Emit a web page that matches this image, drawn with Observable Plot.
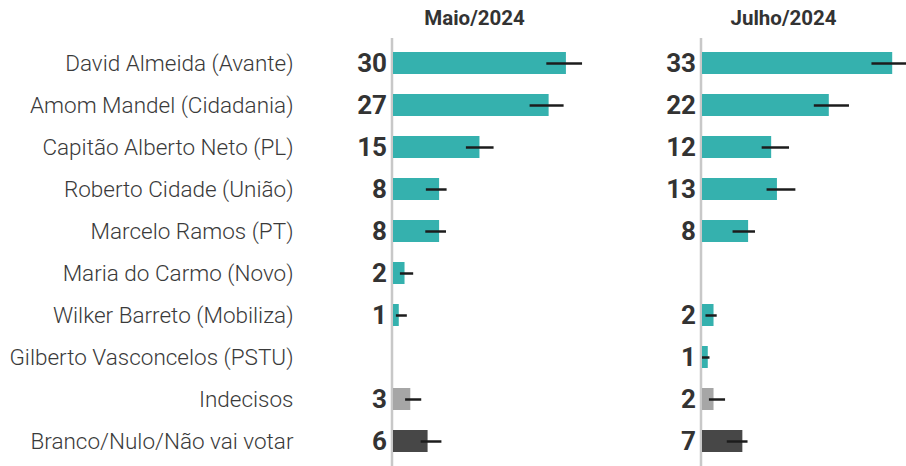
<!DOCTYPE html>
<html><head><meta charset="utf-8">
<script src="https://cdn.jsdelivr.net/npm/d3@7"></script>
<script src="https://cdn.jsdelivr.net/npm/@observablehq/plot@0.6"></script>
<style>body{margin:0;background:#fff;}</style>
</head><body><div id="chart"></div>
<script>
const periods = ["Maio/2024", "Julho/2024"];
const categories = [
  "David Almeida (Avante)",
  "Amom Mandel (Cidadania)",
  "Capitão Alberto Neto (PL)",
  "Roberto Cidade (União)",
  "Marcelo Ramos (PT)",
  "Maria do Carmo (Novo)",
  "Wilker Barreto (Mobiliza)",
  "Gilberto Vasconcelos (PSTU)",
  "Indecisos",
  "Branco/Nulo/Não vai votar"
];
const barColors = ["#35b1ae","#35b1ae","#35b1ae","#35b1ae","#35b1ae","#35b1ae","#35b1ae","#35b1ae","#a6a6a6","#474747"];
const maioValues = [30, 27, 15, 8, 8, 2, 1, null, 3, 6];
const maioLow    = [26.6, 23.7, 12.65, 5.7, 5.6, 1.2, 0.5, null, 2.1, 4.8];
const maioHigh   = [32.8, 29.6, 17.45, 9.3, 9.2, 3.5, 2.4, null, 4.9, 8.4];
const julhoValues = [33, 22, 12, 13, 8, null, 2, 1, 2, 7];
const julhoLow    = [29.4, 19.4, 10.35, 11.2, 5.3, null, 0.6, 0, 1.2, 4.3];
const julhoHigh   = [36.8, 25.5, 15.1, 16.2, 9.2, null, 2.55, 1.3, 4.0, 7.9];

const rows = [];
categories.forEach((c, i) => {
  if (maioValues[i] != null) rows.push({period: periods[0], category: c, value: maioValues[i], low: maioLow[i], high: maioHigh[i]});
  if (julhoValues[i] != null) rows.push({period: periods[1], category: c, value: julhoValues[i], low: julhoLow[i], high: julhoHigh[i]});
});

const chart = Plot.plot({
  width: 906, height: 466,
  marginLeft: 393, marginRight: 4, marginTop: 42, marginBottom: 4,
  style: {fontFamily: "Roboto", color: "#333", background: "#fff"},
  fx: {domain: periods, paddingInner: 0.353, paddingOuter: 0, axis: null},
  x: {domain: [0, 34.7], axis: null},
  y: {domain: categories, paddingInner: 0.476, paddingOuter: 0.238, axis: null},
  color: {domain: categories, range: barColors},
  marks: [
    Plot.axisFx({anchor: "top", tickSize: 0, tickPadding: 18, fontSize: 20.5, fontWeight: "bold", dx: -19, label: null}),
    Plot.axisY({anchor: "left", tickSize: 0, tickPadding: 100, fontSize: 22.5, fontWeight: 300, fill: "#3a3a3a", label: null}),
    Plot.ruleX([0], {stroke: "#c8c8c8", strokeWidth: 2.5, insetTop: -4, insetBottom: -4, dx: -1.5}),
    Plot.barX(rows, {fx: "period", y: "category", x: "value", fill: "category"}),
    Plot.ruleY(rows, {fx: "period", y: "category", x1: "low", x2: "high", stroke: "#1c1c1c", strokeWidth: 2.5}),
    Plot.text(rows, {fx: "period", y: "category", x: 0, text: d => String(d.value), dx: -6.5, textAnchor: "end", fontSize: 26, fontWeight: "bold"})
  ]
});
document.getElementById("chart").appendChild(chart);
</script>
</body></html>
